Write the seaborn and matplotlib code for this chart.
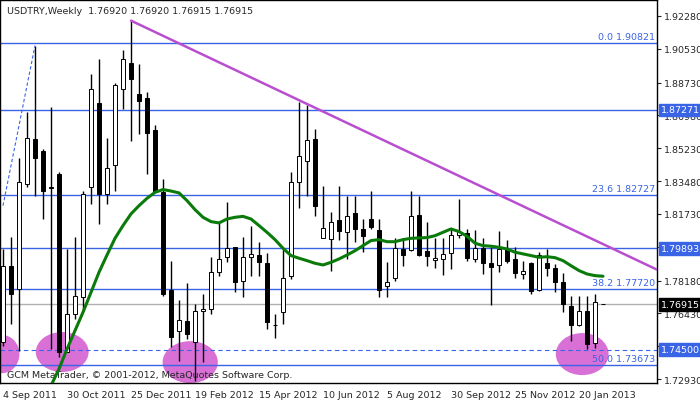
import matplotlib
matplotlib.use("Agg")
import matplotlib.pyplot as plt
from matplotlib.patches import Ellipse
import numpy as np
import pandas as pd
import seaborn as sns

sns.set_style("white")
plt.rcParams['font.family'] = ['DejaVu Sans']

opens = [1.7489,1.7897,1.7773,1.8333,1.8573,1.8507,1.8319,1.8386,1.7439,1.7640,1.7729,1.8315,1.8765,1.8279,1.8434,1.8839,
         1.8978,1.8813,1.8789,1.8621,1.8288,1.7768,1.7551,1.7601,1.7489,1.7654,1.7666,1.7862,1.7942,1.7995,1.7817,1.7942,
         1.7954,1.7912,1.7581,1.7649,1.7844,1.8342,1.8454,1.8573,1.8045,1.8040,1.8143,1.8075,1.8176,1.8093,1.8146,1.8087,
         1.7787,1.7830,1.7986,1.7983,1.8167,1.7974,1.7928,1.7933,1.7963,1.8061,1.8070,1.7933,1.7990,1.7910,1.7901,1.7986,
         1.7933,1.7853,1.7910,1.7769,1.7910,1.7883,1.7809,1.7681,1.7583,1.7658,1.7483,1.7692]
closes = [1.7897,1.7746,1.8342,1.8576,1.8470,1.8297,1.8313,1.7439,1.7640,1.7734,1.8279,1.8839,1.8279,1.8416,1.8861,1.8996,
          1.8893,1.8777,1.8603,1.8288,1.7746,1.7515,1.7610,1.7533,1.7654,1.7666,1.7862,1.7933,1.7992,1.7809,1.7942,1.7960,
          1.7915,1.7595,1.7579,1.7830,1.8345,1.8484,1.8567,1.8214,1.8096,1.8132,1.8080,1.8160,1.8093,1.8057,1.8102,1.7769,
          1.7809,1.7990,1.7954,1.8164,1.7954,1.7951,1.7936,1.7960,1.8061,1.8075,1.7936,1.7990,1.7910,1.7889,1.7986,1.7924,
          1.7857,1.7871,1.7761,1.7954,1.7883,1.7809,1.7693,1.7583,1.7658,1.7480,1.7702,1.7692]
highs = [1.7986,1.8048,1.8470,1.8715,1.9070,1.8519,1.8741,1.8395,1.7986,1.8048,1.8297,1.8919,1.8999,1.8578,1.8871,1.9049,
         1.9203,1.8972,1.8821,1.8647,1.8359,1.7924,1.7714,1.7805,1.7693,1.7746,1.7942,1.8137,1.8235,1.7995,1.8048,1.8111,
         1.8025,1.7965,1.7640,1.7986,1.8395,1.8768,1.8754,1.8626,1.8320,1.8182,1.8320,1.8271,1.8271,1.8146,1.8297,1.8146,
         1.7915,1.8043,1.8043,1.8297,1.8271,1.8132,1.8043,1.8043,1.8096,1.8253,1.8093,1.8088,1.8043,1.7995,1.8084,1.8034,
         1.7995,1.7924,1.7915,1.7968,1.7986,1.7906,1.7858,1.7737,1.7737,1.7737,1.7746,1.7692]
lows = [1.7471,1.7586,1.7444,1.8315,1.8271,1.8146,1.7453,1.7409,1.7435,1.7613,1.7658,1.8226,1.8120,1.8226,1.8297,1.8733,
        1.8564,1.8599,1.8386,1.8288,1.7737,1.7462,1.7391,1.7506,1.7284,1.7382,1.7640,1.7841,1.7915,1.7755,1.7729,1.7844,
        1.7844,1.7560,1.7510,1.7586,1.7826,1.8203,1.8271,1.8160,1.8043,1.7871,1.8036,1.7933,1.8022,1.7972,1.8093,1.7729,
        1.7729,1.7817,1.7894,1.7977,1.7951,1.7894,1.7883,1.7848,1.7880,1.8043,1.7924,1.7915,1.7853,1.7688,1.7865,1.7910,
        1.7830,1.7826,1.7746,1.7764,1.7844,1.7755,1.7649,1.7498,1.7578,1.7453,1.7457,1.7692]
ma_start = 6
ma_values = [1.7258,1.7347,1.7453,1.7551,1.7649,1.7755,1.7862,1.7954,1.8043,1.8111,1.8173,1.8217,1.8256,1.8288,1.8303,
             1.8295,1.8285,1.8244,1.8196,1.8155,1.8132,1.8125,1.8146,1.8155,1.8160,1.8146,1.8111,1.8075,1.8036,1.7990,
             1.7951,1.7937,1.7924,1.7910,1.7901,1.7915,1.7933,1.7954,1.7977,1.8004,1.8031,1.8036,1.8025,1.8025,1.8036,
             1.8043,1.8045,1.8047,1.8057,1.8075,1.8093,1.8079,1.8054,1.8017,1.8004,1.8001,1.7995,1.7986,1.7969,1.7960,
             1.7951,1.7942,1.7945,1.7940,1.7924,1.7897,1.7871,1.7853,1.7844,1.7841]
fib_levels = [("0.0", 1.90821), ("23.6", 1.82727), ("38.2", 1.77720), ("50.0", 1.73673)]
hlines_plain = [1.87271, 1.79893]
dashed_level = 1.74500
last_price = 1.76915
trend_pts = [(16, 1.9203), (81.75, 1.7876)]
dash_pts = [(0, 1.8217), (4, 1.9070)]
ellipses = [(-0.1, 1.7426, 4.3, 0.0203), (7.4, 1.7437, 6.6, 0.0213), (23.4, 1.7383, 6.9, 0.0224), (72.4, 1.7426, 6.6, 0.0224)]
yticks = [1.92280,1.90530,1.88730,1.86980,1.85230,1.83480,1.81730,1.79980,1.78180,1.76430,1.74680,1.72930]
date_labels = ["4 Sep 2011","30 Oct 2011","25 Dec 2011","19 Feb 2012","15 Apr 2012","10 Jun 2012",
               "5 Aug 2012","30 Sep 2012","25 Nov 2012","20 Jan 2013"]
date_pos = [0,8,16,24,32,40,48,56,64,72]

blue = "#3a64e6"
fs = 6.8
fig = plt.figure(figsize=(7, 4.02), dpi=100)
ax = fig.add_axes([0.0, 18/402, 657/700, 383/402])
ylo, yhi = 1.7272, 1.9313
ax.set_xlim(-0.375, 81.75)
ax.set_ylim(ylo, yhi)

for e in ellipses:
    ax.add_patch(Ellipse((e[0], e[1]), e[2], e[3], color="#d970d6", zorder=1, lw=0))

for name, lv in fib_levels:
    ax.axhline(lv, color=blue, lw=1, zorder=2)
    ax.text(81.5, lv + 0.0010, f"{name} {lv:.5f}", color=blue, fontsize=fs, ha="right", va="bottom")
for lv in hlines_plain:
    ax.axhline(lv, color=blue, lw=1, zorder=2)
ax.axhline(dashed_level, color=blue, lw=0.8, ls=(0, (4, 3)), zorder=2)
ax.axhline(last_price, color="#b0b0b0", lw=1, zorder=2)

x = np.arange(len(opens))
df = pd.DataFrame({"x": x, "o": opens, "c": closes, "h": highs, "l": lows})
ax.vlines(df.x, df.l, df.h, color="black", lw=1, zorder=3)
for _, r in df.iterrows():
    up = r.c >= r.o
    lo, hi = min(r.o, r.c), max(r.o, r.c)
    ax.bar(r.x, max(hi - lo, 0.0003), bottom=lo, width=0.6, color="white" if up else "black",
           edgecolor="black", lw=0.7, zorder=4)

ma_df = pd.DataFrame({"x": np.arange(ma_start, ma_start + len(ma_values)), "ma": ma_values})
sns.lineplot(data=ma_df, x="x", y="ma", ax=ax, color="#0a7a0a", lw=2.2, zorder=5)
ax.plot([p[0] for p in trend_pts], [p[1] for p in trend_pts], color="#b94fd0", lw=1.8, zorder=5)
ax.plot([p[0] for p in dash_pts], [p[1] for p in dash_pts], color=blue, lw=0.8, ls=(0, (3, 2)), zorder=5)

ax.yaxis.tick_right()
ax.set_yticks(yticks)
ax.set_yticklabels([f"{v:.5f}" for v in yticks], fontsize=fs)
ax.set_xticks(date_pos)
ax.set_xticklabels(date_labels, fontsize=fs, ha="left")
ax.tick_params(axis="both", length=3, direction="out", pad=2)
ax.set_xlabel(""); ax.set_ylabel("")
for s in ax.spines.values():
    s.set_color("black"); s.set_linewidth(1)

for lv, bg in [(1.87271, blue), (1.79893, blue), (1.74500, blue), (last_price, "black")]:
    ax.text(1.006, (lv - ylo) / (yhi - ylo), f"{lv:.5f}", transform=ax.transAxes,
            fontsize=fs, color="white", va="center", ha="left", zorder=10, clip_on=False,
            bbox=dict(boxstyle="square,pad=0.2", fc=bg, ec=bg))

ax.text(0.01, 0.985, "USDTRY,Weekly  1.76920 1.76920 1.76915 1.76915", transform=ax.transAxes,
        fontsize=fs, va="top", ha="left")
ax.text(0.01, 0.01, "GCM MetaTrader, © 2001-2012, MetaQuotes Software Corp.", transform=ax.transAxes,
        fontsize=fs, va="bottom", ha="left")
fig.savefig("out.png", dpi=100, facecolor="white")
